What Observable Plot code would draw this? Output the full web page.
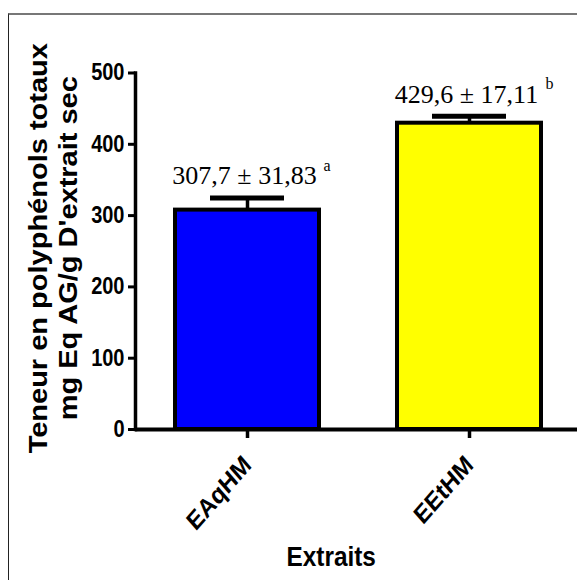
<!DOCTYPE html>
<html><head><meta charset="utf-8">
<script src="https://cdn.jsdelivr.net/npm/d3@7"></script>
<script src="https://cdn.jsdelivr.net/npm/@observablehq/plot@0.6"></script>
<style>
body{margin:0;background:#fff;}
#wrap{position:relative;width:577px;height:580px;overflow:hidden;background:#fff;}
#border{position:absolute;left:8px;top:13px;right:-10px;bottom:-10px;border-top:2px solid #777;border-left:1.5px solid #222;pointer-events:none;}
</style></head><body>
<div id="wrap"><div id="chart"></div><div id="border"></div></div>
<script>
const categories = ["EAqHM", "EEtHM"];
const means = [307.7, 429.6];
const errBars = [17.0, 9.7]; // drawn (upper) error bar lengths
const labels = ["307,7 ± 31,83", "429,6 ± 17,11"];
const letters = ["a", "b"];
const colors = ["#0000ff", "#ffff00"];
const yTicks = [0, 100, 200, 300, 400, 500];
const yTitle = "Teneur en polyphénols totaux\nmg Eq AG/g D'extrait sec";
const xTitle = "Extraits";

const data = categories.map((c, i) => ({cat: c, mean: means[i], top: means[i] + errBars[i], label: labels[i], letter: letters[i]}));

const SANS = "'Liberation Sans', Arial, sans-serif";
const SERIF = "'Liberation Serif', 'Times New Roman', serif";

const svg = Plot.plot({
  width: 577, height: 580,
  marginLeft: 135, marginRight: -3.5, marginTop: 72.5, marginBottom: 151,
  style: {background: "transparent", color: "#000", overflow: "visible"},
  x: {domain: categories, paddingInner: 0.35, paddingOuter: 0.175, label: null},
  y: {domain: [0, 500], label: null},
  color: {domain: categories, range: colors},
  marks: [
    Plot.barY(data, {x: "cat", y: "mean", fill: "cat", stroke: "#000", strokeWidth: 4}),
    Plot.ruleX(data, {x: "cat", y1: "mean", y2: "top", stroke: "#000", strokeWidth: 3.5}),
    Plot.tickY(data, {x: "cat", y: "top", stroke: "#000", strokeWidth: 5, inset: 35}),
    Plot.ruleY([0], {stroke: "#000", strokeWidth: 4}),
    Plot.frame({anchor: "left", stroke: "#000", strokeWidth: 3.5}),
    Plot.axisY(yTicks, {tickSize: 7, tickPadding: 4, strokeWidth: 3, fontSize: 23, fontWeight: "bold", fontFamily: SANS, label: null}),
    Plot.axisX({tickSize: 9, tickPadding: 22, strokeWidth: 3.5, tickRotate: -45, fontSize: 26, fontWeight: "bold", fontFamily: SANS, label: null}),
    Plot.text([yTitle], {frameAnchor: "left", textAnchor: "middle", rotate: -90, dx: -83, dy: -3, lineAnchor: "middle", lineHeight: 1.19, fontSize: 29, fontWeight: "bold", fontFamily: SANS}),
    Plot.text([xTitle], {frameAnchor: "bottom", dx: -27, dy: 128, lineAnchor: "middle", fontSize: 28, fontWeight: "bold", fontFamily: SANS}),
    Plot.text(data, {x: "cat", y: "top", text: "label", dx: -3, dy: -22, fontSize: 26, fontFamily: SERIF}),
    Plot.text(data, {x: "cat", y: "top", text: "letter", textAnchor: "start", dx: 76, dy: -32, fontSize: 16, fontFamily: SERIF})
  ]
});

// Horizontal condensation of the sans-serif texts, as in the reference
const S = 0.87;
d3.select(svg).selectAll("text").each(function () {
  const g = this.closest("[font-family]");
  const ff = g ? g.getAttribute("font-family") : "";
  if (ff.includes("Liberation Serif")) return;
  const t = this.getAttribute("transform");
  if (t && /^translate\([^)]*\)/.test(t)) {
    this.setAttribute("transform", t.replace(/^(translate\([^)]*\))/, `$1 scale(${S},1)`));
  } else if (!t) {
    const x = +this.getAttribute("x") || 0, y = +this.getAttribute("y") || 0;
    this.setAttribute("transform", `translate(${x},${y}) scale(${S},1) translate(${-x},${-y})`);
  }
});

document.getElementById("chart").appendChild(svg);
</script>
</body></html>
